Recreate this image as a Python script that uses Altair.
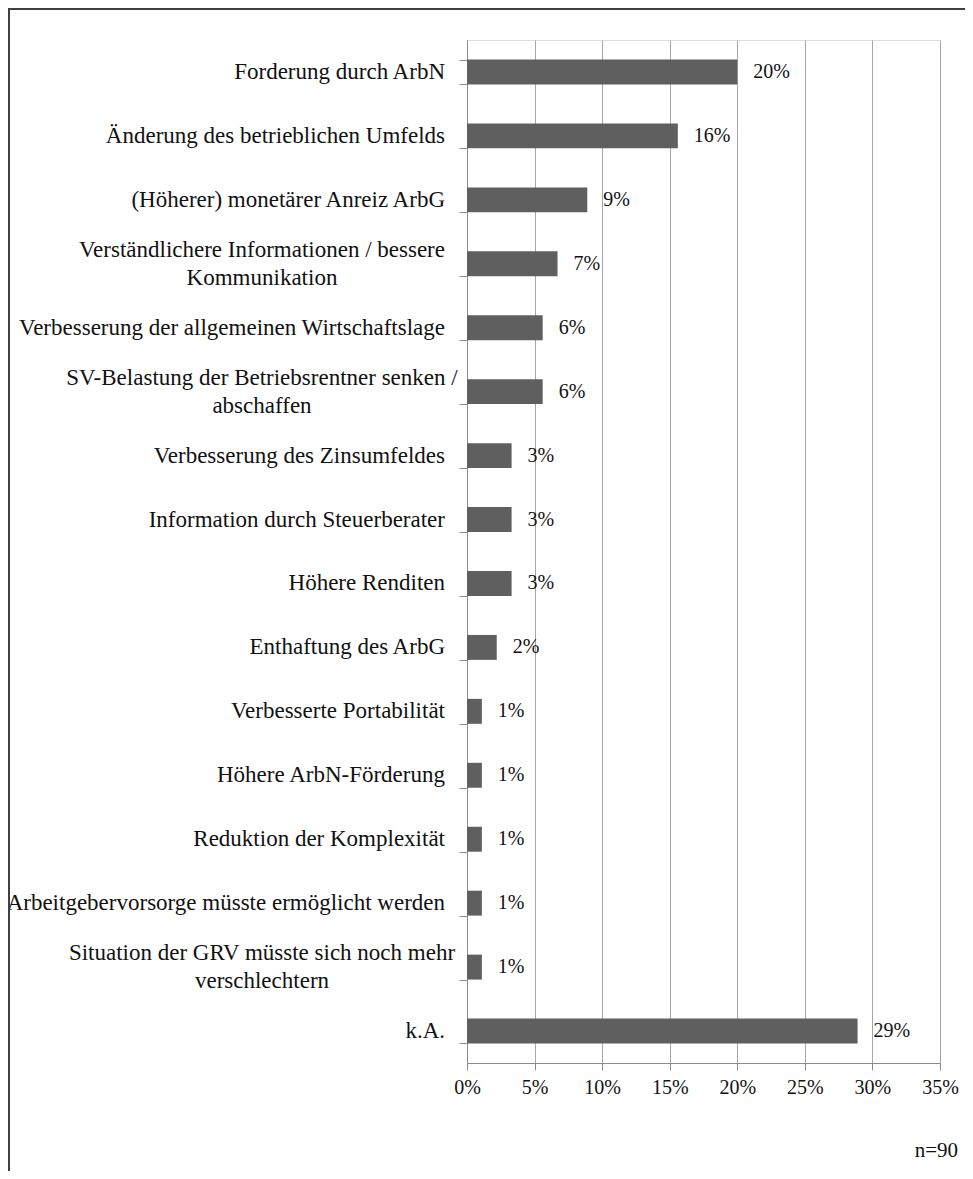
import altair as alt
import pandas as pd

categories = [
    "Forderung durch ArbN",
    "Änderung des betrieblichen Umfelds",
    "(Höherer) monetärer Anreiz ArbG",
    "Verständlichere Informationen / bessere\nKommunikation",
    "Verbesserung der allgemeinen Wirtschaftslage",
    "SV-Belastung der Betriebsrentner senken /\nabschaffen",
    "Verbesserung des Zinsumfeldes",
    "Information durch Steuerberater",
    "Höhere Renditen",
    "Enthaftung des ArbG",
    "Verbesserte Portabilität",
    "Höhere ArbN-Förderung",
    "Reduktion der Komplexität",
    "Arbeitgebervorsorge müsste ermöglicht werden",
    "Situation der GRV müsste sich noch mehr\nverschlechtern",
    "k.A.",
]
shares = [0.200, 0.156, 0.089, 0.067, 0.056, 0.056, 0.033, 0.033,
          0.033, 0.022, 0.011, 0.011, 0.011, 0.011, 0.011, 0.289]
x_ticks = [0.0, 0.05, 0.10, 0.15, 0.20, 0.25, 0.30, 0.35]
sample_note = ["n=90"]

df = pd.DataFrame({"cat": categories, "share": shares})
df["multi"] = df["cat"].str.contains("\n")

FONT = "Liberation Serif"
W, H = 473, 1023
PAD = {"left": 459, "top": 32, "right": 25, "bottom": 108}

base = alt.Chart(df)

y_enc = alt.Y(
    "cat:N",
    sort=categories,
    scale=alt.Scale(paddingInner=0.61, paddingOuter=0.305),
    axis=alt.Axis(labels=False, title=None, grid=False, tickBand="extent",
                  tickSize=8, tickColor="#8c8c8c", domainColor="#8c8c8c",
                  tickWidth=1, domainWidth=1),
)

bars = base.mark_bar(color="#5f5f5f").encode(
    x=alt.X("share:Q",
            scale=alt.Scale(domain=[0, 0.35], nice=False, zero=True),
            axis=alt.Axis(values=x_ticks, format=".0%", title=None,
                          grid=True, gridColor="#a6a6a6", gridWidth=1,
                          domainColor="#8c8c8c", tickColor="#8c8c8c",
                          tickSize=7, labelPadding=7, labelFlush=False,
                          labelFont=FONT, labelFontSize=20, labelColor="#111111")),
    y=y_enc,
)

values = base.mark_text(align="left", baseline="middle", dx=16,
                        font=FONT, fontSize=20, color="#111111").encode(
    x="share:Q",
    y=alt.Y("cat:N", sort=categories),
    text=alt.Text("share:Q", format=".0%"),
)

single_labels = base.transform_filter("!datum.multi").mark_text(
    align="right", baseline="middle", font=FONT, fontSize=23, color="#111111"
).encode(
    x=alt.value(-22),
    y=alt.Y("cat:N", sort=categories),
    text="cat:N",
)

multi_labels = base.transform_filter("datum.multi").mark_text(
    align="center", baseline="middle", font=FONT, fontSize=23, color="#111111",
    lineBreak="\n", lineHeight=28, dy=-14
).encode(
    x=alt.value(-205),
    y=alt.Y("cat:N", sort=categories),
    text="cat:N",
)

note = alt.Chart(pd.DataFrame({"t": sample_note})).mark_text(
    align="right", baseline="middle", font=FONT, fontSize=21, color="#111111"
).encode(
    x=alt.value(491), y=alt.value(1111), text="t:N"
)

frame_df = pd.DataFrame({"k": [0]})
frame_left = alt.Chart(frame_df).mark_rule(color="#404040", strokeWidth=2).encode(
    x=alt.value(-458), y=alt.value(-32), y2=alt.value(H + PAD["bottom"])
)
frame_top = alt.Chart(frame_df).mark_rule(color="#404040", strokeWidth=2).encode(
    x=alt.value(-PAD["left"]), x2=alt.value(W + PAD["right"]), y=alt.value(-31)
)

chart = alt.layer(bars, values, single_labels, multi_labels, note,
                  frame_left, frame_top).properties(
    width=W, height=H, padding=PAD,
    autosize=alt.AutoSizeParams(type="none"),
).configure_view(stroke=None).configure(background="white")

chart.save("out.html", embed_options={"renderer": "svg", "actions": False})
